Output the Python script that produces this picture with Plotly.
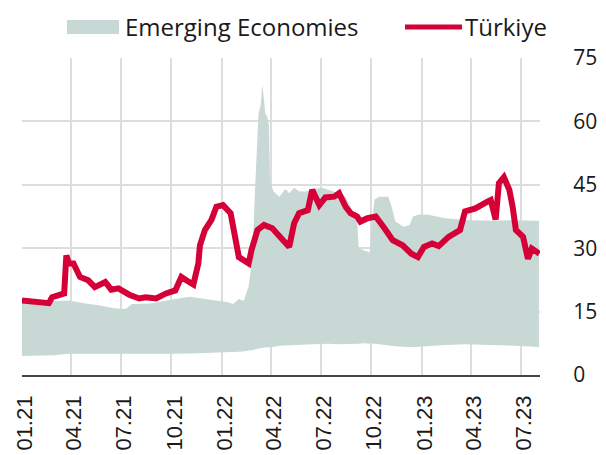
import plotly.graph_objects as go

# ---- Data ----
band_dates = [
    "2021-01-01", "2021-02-01", "2021-03-01", "2021-03-27", "2021-04-24", "2021-05-21",
    "2021-06-18", "2021-07-09", "2021-07-21", "2021-08-24", "2021-09-29", "2021-11-04",
    "2021-12-11", "2022-01-10", "2022-01-22", "2022-02-01", "2022-02-10", "2022-02-19",
    "2022-02-24", "2022-02-28", "2022-03-03", "2022-03-06", "2022-03-09", "2022-03-13",
    "2022-03-16", "2022-03-19", "2022-03-21", "2022-03-25", "2022-03-28", "2022-03-30",
    "2022-04-05", "2022-04-16", "2022-04-27", "2022-05-04", "2022-05-13", "2022-05-22",
    "2022-06-04", "2022-06-18", "2022-07-03", "2022-07-14", "2022-08-03", "2022-08-15",
    "2022-08-30", "2022-09-05", "2022-09-08", "2022-09-17", "2022-09-28", "2022-10-02",
    "2022-10-07", "2022-10-15", "2022-11-01", "2022-11-07", "2022-11-14", "2022-11-29",
    "2022-12-10", "2022-12-16", "2022-12-27", "2023-01-13", "2023-02-13", "2023-03-21",
    "2023-05-08", "2023-06-10", "2023-08-03",
]
em_upper = [
    17.2, 17.4, 17.6, 17.6, 17.0, 16.5,
    15.8, 15.6, 16.8, 16.9, 17.8, 18.5,
    17.8, 17.3, 16.8, 18.0, 17.5, 21.0,
    26.0, 35.0, 45.0, 52.0, 62.0, 64.0,
    68.8, 65.0, 62.0, 61.0, 59.0, 46.0,
    43.5, 42.2, 44.0, 43.0, 44.3, 43.5,
    43.4, 44.0, 44.3, 43.8, 43.0, 42.2,
    38.0, 36.7, 30.0, 29.5, 29.0, 36.0,
    41.5, 42.2, 42.2, 39.8, 36.3, 35.1,
    35.5, 37.5, 38.0, 37.9, 37.1, 36.7,
    36.5, 36.6, 36.5,
]
em_lower = [
    4.5, 4.6, 4.7, 5.0, 5.0, 5.0,
    4.9, 5.0, 5.0, 5.0, 5.0, 5.1,
    5.2, 5.4, 5.4, 5.5, 5.6, 5.7,
    5.8, 5.9, 6.1, 6.2, 6.3, 6.4,
    6.4, 6.5, 6.5, 6.5, 6.5, 6.6,
    6.6, 6.9, 7.0, 7.0, 7.1, 7.1,
    7.2, 7.3, 7.4, 7.4, 7.3, 7.3,
    7.3, 7.4, 7.4, 7.5, 7.5, 7.5,
    7.4, 7.3, 7.0, 6.9, 6.8, 6.7,
    6.6, 6.6, 6.7, 6.9, 7.1, 7.3,
    7.2, 7.0, 6.6,
]

tr_dates = [
    "2021-01-01", "2021-02-19", "2021-02-25", "2021-03-19", "2021-03-23", "2021-03-28",
    "2021-04-05", "2021-04-17", "2021-05-02", "2021-05-14", "2021-06-02", "2021-06-13",
    "2021-06-26", "2021-07-16", "2021-08-03", "2021-08-15", "2021-09-03", "2021-09-21",
    "2021-10-08", "2021-10-19", "2021-10-28", "2021-11-10", "2021-11-19", "2021-11-22",
    "2021-12-01", "2021-12-13", "2021-12-22", "2022-01-03", "2022-01-17", "2022-01-26",
    "2022-02-01", "2022-02-19", "2022-02-24", "2022-03-07", "2022-03-19", "2022-04-03",
    "2022-04-16", "2022-05-04", "2022-05-13", "2022-05-22", "2022-06-07", "2022-06-15",
    "2022-06-28", "2022-07-09", "2022-07-25", "2022-08-03", "2022-08-15", "2022-08-24",
    "2022-09-05", "2022-09-11", "2022-09-24", "2022-10-09", "2022-10-25", "2022-11-09",
    "2022-11-27", "2022-12-13", "2022-12-25", "2023-01-05", "2023-01-20", "2023-02-01",
    "2023-02-19", "2023-03-12", "2023-03-21", "2023-04-09", "2023-05-01", "2023-05-07",
    "2023-05-16", "2023-05-22", "2023-05-31", "2023-06-10", "2023-06-16", "2023-06-22",
    "2023-07-05", "2023-07-14", "2023-07-21", "2023-07-30", "2023-08-04",
]
turkiye = [
    17.6, 17.0, 18.4, 19.3, 28.3, 26.4,
    26.4, 23.2, 22.4, 20.8, 22.0, 20.2,
    20.5, 19.0, 18.1, 18.4, 18.1, 19.3,
    20.0, 23.2, 22.4, 21.4, 26.4, 30.7,
    34.3, 36.7, 39.8, 40.2, 38.3, 32.7,
    27.9, 26.4, 29.5, 34.3, 35.5, 34.7,
    32.7, 30.3, 35.9, 38.3, 39.0, 43.8,
    40.2, 42.0, 42.2, 43.0, 39.8, 38.3,
    37.5, 36.3, 37.1, 37.5, 34.7, 31.9,
    30.7, 28.7, 27.9, 30.3, 31.1, 30.5,
    32.7, 34.3, 38.7, 39.4, 41.0, 41.4,
    36.8, 45.4, 46.8, 43.8, 39.8, 34.3,
    32.7, 27.5, 29.9, 29.1, 28.7,
]

y_ticks = [0, 15, 30, 45, 60, 75]

BAND = "#c8d8d4"
RED = "#d50037"
GRID = "#dddddd"
TXT = "#1a1a1a"

fig = go.Figure()
fig.add_trace(go.Scatter(
    x=band_dates, y=em_lower, mode="lines", line=dict(width=0, color=BAND),
    showlegend=False, hoverinfo="skip",
))
fig.add_trace(go.Scatter(
    x=band_dates, y=em_upper, mode="lines", line=dict(width=0, color=BAND),
    fill="tonexty", fillcolor=BAND, name="Emerging Economies", showlegend=False,
))
fig.add_trace(go.Scatter(
    x=tr_dates, y=turkiye, mode="lines", line=dict(width=6, color=RED),
    name="Türkiye", showlegend=False,
))

# manual legend (wide swatches as in the reference)
fig.add_shape(type="rect", xref="paper", yref="paper",
              x0=0.0869, x1=0.1873, y0=1.0757, y1=1.1199,
              fillcolor=BAND, line=dict(width=0))
fig.add_annotation(xref="paper", yref="paper", x=0.195, y=1.0978,
                   text="Emerging Economies", showarrow=False,
                   xanchor="left", yanchor="middle",
                   font=dict(family="Open Sans", size=24, color=TXT))
fig.add_shape(type="line", xref="paper", yref="paper",
              x0=0.7394, x1=0.8494, y0=1.0978, y1=1.0978,
              line=dict(color=RED, width=5))
fig.add_annotation(xref="paper", yref="paper", x=0.8514, y=1.0978,
                   text="Türkiye", showarrow=False,
                   xanchor="left", yanchor="middle",
                   font=dict(family="Open Sans", size=24, color=TXT))

# the page body adds an 8px offset, so the figure is sized to fit the window
fig.update_layout(
    width=598, height=447,
    margin=dict(l=14, r=66, t=50, b=80),
    paper_bgcolor="white", plot_bgcolor="white",
    showlegend=False,
)
fig.update_xaxes(
    type="date", range=["2021-01-01", "2023-08-05"],
    tick0="2021-01-01", dtick="M3", tickformat="%m.%y",
    tickangle=-90, showgrid=True, gridcolor=GRID, gridwidth=1.5,
    showline=True, linecolor="#444444", linewidth=1.5,
    ticks="outside", ticklen=10, tickcolor="rgba(0,0,0,0)",
    ticklabelshift=3,
    tickfont=dict(family="Liberation Sans, Arial", size=22, color=TXT),
    zeroline=False, automargin=False,
)
fig.update_yaxes(
    side="right", range=[0, 75], tickvals=y_ticks,
    showgrid=True, gridcolor=GRID, gridwidth=1.5, zeroline=False,
    showline=False, automargin=False,
    ticks="outside", ticklen=28, tickcolor="rgba(0,0,0,0)",
    tickfont=dict(family="Open Sans", size=21, color=TXT),
)

fig.write_html("out.html")
